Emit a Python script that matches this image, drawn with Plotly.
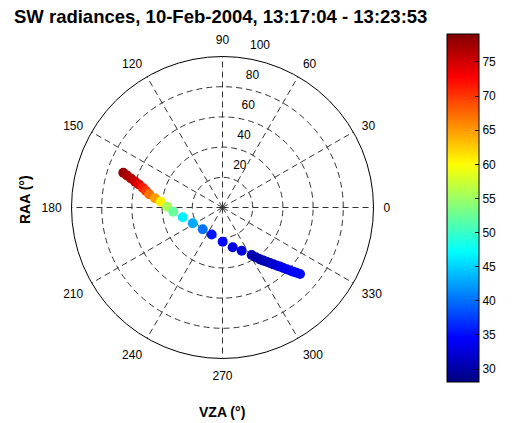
import plotly.graph_objects as go

# Data (VZA = radius, RAA = angle in degrees, colour = SW radiance)
vza = [69.6, 66.7, 63.6, 60.4, 57.4, 54.2, 51.8, 49.3, 45.1, 41.1, 36.6, 32.7, 27.1,
       22.3, 19.5, 19.3, 22.6, 27.2, 31.3, 36.9, 39.6, 42.4, 44.4, 46.3, 48.4, 50.5,
       52.5, 54.6, 56.8, 59.0, 61.1, 63.3, 65.4, 67.6]
raa = [160.7, 161.5, 162.4, 163.5, 164.6, 166.2, 167.8, 169.8, 172.2, 174.6, 179.2, 184.9, 193.8,
       207.9, 227.8, 248.2, 270.3, 284.4, 294.0, 301.6, 303.8, 305.9, 307.6, 309.2, 310.5, 311.8,
       313.0, 314.2, 315.2, 316.1, 317.0, 317.8, 318.6, 319.4]
rad = [78.0, 77.1, 76.5, 75.5, 74.0, 71.5, 70.0, 67.0, 64.9, 60.7, 55.6, 52.3, 46.5,
       42.9, 40.3, 35.5, 34.7, 33.0, 32.5, 30.6, 30.4, 30.4, 30.6, 30.9, 31.3, 31.8,
       32.3, 32.8, 33.3, 33.7, 34.0, 34.3, 34.6, 34.8]

radial_ticks = [20, 40, 60, 80, 100]
angular_ticks = list(range(0, 360, 30))
cbar_ticks = [30, 35, 40, 45, 50, 55, 60, 65, 70, 75]
cmin, cmax = 28.1, 79.1

title_text = "SW radiances, 10-Feb-2004, 13:17:04 - 13:23:53"

# MATLAB-style jet colormap
jet = [[0.0, "rgb(0,0,128)"], [0.125, "rgb(0,0,255)"], [0.375, "rgb(0,255,255)"],
       [0.625, "rgb(255,255,0)"], [0.875, "rgb(255,0,0)"], [1.0, "rgb(128,0,0)"]]

W, H = 512, 423
cx, cy, R = 222.5, 207.5, 151.0

fig = go.Figure()
fig.add_trace(go.Scatterpolar(
    r=vza, theta=raa, mode="markers",
    marker=dict(
        size=10, color=rad, colorscale=jet, cmin=cmin, cmax=cmax,
        line=dict(width=0),
        colorbar=dict(
            x=447 / W, xanchor="left", y=(H - 208) / H, yanchor="middle",
            thickness=32, thicknessmode="pixels",
            len=348 / H, lenmode="fraction",
            tickvals=cbar_ticks, ticks="inside", ticklen=4, tickcolor="black",
            outlinecolor="black", outlinewidth=1,
            tickfont=dict(family="Liberation Sans, Arial", size=12, color="black"),
            xpad=0, ypad=0,
        ),
    ),
    showlegend=False,
))

fig.update_layout(
    width=W, height=H,
    margin=dict(l=0, r=0, t=0, b=0),
    paper_bgcolor="white", plot_bgcolor="white",
    font=dict(family="Liberation Sans, Arial", size=12, color="black"),
    title=dict(text="<b>" + title_text + "</b>", x=14 / W, xanchor="left",
               y=1 - 17 / H, yanchor="middle",
               font=dict(family="Liberation Sans, Arial", size=18.5, color="black")),
    polar=dict(
        domain=dict(x=[(cx - R) / W, (cx + R) / W], y=[(H - cy - R) / H, (H - cy + R) / H]),
        bgcolor="white",
        radialaxis=dict(
            range=[0, 100], tickvals=radial_ticks,
            ticktext=[str(v) + "<br> <br> " for v in radial_ticks],
            angle=82, tickangle=82,
            side="clockwise", showline=False, ticks="",
            gridcolor="#333333", griddash="6px,4px", gridwidth=1,
            tickfont=dict(size=12, color="black"),
        ),
        angularaxis=dict(
            rotation=0, direction="counterclockwise", tickvals=angular_ticks,
            ticks="outside", ticklen=7, tickcolor="rgba(0,0,0,0)",
            showline=True, linecolor="black", linewidth=1,
            gridcolor="#333333", griddash="6px,4px", gridwidth=1,
            tickfont=dict(size=12, color="black"),
        ),
    ),
    annotations=[
        dict(text="<b>RAA (°)</b>", x=25 / W, y=(H - 200) / H, xref="paper", yref="paper",
             textangle=-90, showarrow=False, xanchor="center", yanchor="middle",
             font=dict(size=14, color="black")),
        dict(text="<b>VZA (°)</b>", x=222 / W, y=(H - 412) / H, xref="paper", yref="paper",
             showarrow=False, xanchor="center", yanchor="middle",
             font=dict(size=14, color="black")),
    ],
)

fig.write_html("out.html")
